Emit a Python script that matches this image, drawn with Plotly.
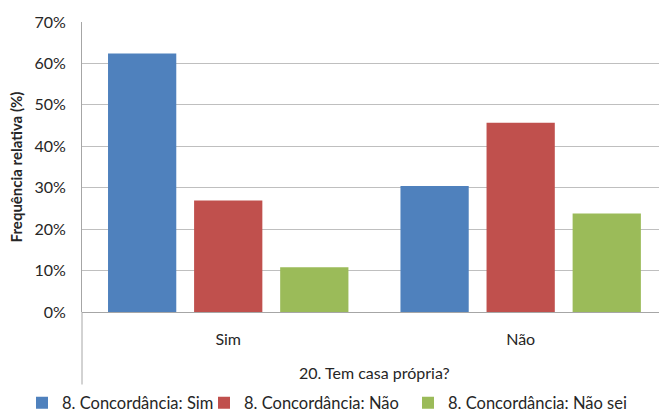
import plotly.graph_objects as go

categories = ["Sim", "Não"]
series_names = ["8. Concordância: Sim", "8. Concordância: Não", "8. Concordância: Não sei"]
vals_sim = [0.624, 0.304]
vals_nao = [0.269, 0.457]
vals_naosei = [0.108, 0.238]
colors = ["#4F81BD", "#C0504D", "#9BBB59"]
y_ticks = [0, 0.1, 0.2, 0.3, 0.4, 0.5, 0.6, 0.7]
y_ticktext = ["0%", "10%", "20%", "30%", "40%", "50%", "60%", "70%"]

FONT = "Lato"
TXT = "#262626"
W, H = 659, 410
legend_ids = ["legend", "legend2", "legend3"]
legend_left_px = [22, 204, 408]

fig = go.Figure()
for name, vals, c, lid in zip(series_names, [vals_sim, vals_nao, vals_naosei], colors, legend_ids):
    fig.add_trace(go.Bar(x=[0, 1], y=vals, name=name, legend=lid,
                         marker=dict(color=c, line=dict(width=0))))

legend_layouts = {}
for lid, px in zip(legend_ids, legend_left_px):
    legend_layouts[lid] = dict(orientation="h", xref="container", yref="container",
                               x=px / W, xanchor="left", y=7 / H, yanchor="middle",
                               font=dict(family=FONT, size=16.5, color=TXT), itemwidth=30,
                               bgcolor="rgba(0,0,0,0)")

fig.update_layout(
    width=W, height=H,
    margin=dict(l=82, r=0, t=22, b=98, pad=0, autoexpand=False),
    paper_bgcolor="white", plot_bgcolor="white",
    barmode="group", bargap=0.117, bargroupgap=0.207,
    font=dict(family=FONT, size=15, color=TXT),
    showlegend=True,
    xaxis=dict(range=[-0.5, 1.473], tickmode="array", tickvals=[0, 1], ticktext=categories,
               showgrid=False, zeroline=False, showline=False, ticks="", automargin=False,
               ticklabelstandoff=16, tickfont=dict(size=16, color=TXT), fixedrange=True),
    yaxis=dict(range=[0, 0.7], tickmode="array", tickvals=y_ticks, ticktext=y_ticktext,
               showgrid=True, gridcolor="#BFBFBF", gridwidth=1, zeroline=True,
               zerolinecolor="#A6A6A6", zerolinewidth=1, automargin=False,
               showline=True, linecolor="#A6A6A6", linewidth=1, fixedrange=True,
               ticks="", ticklabelstandoff=12, tickfont=dict(size=16, color=TXT),
               title=dict(text="<b>Frequência relativa (%)</b>", font=dict(size=15, color=TXT), standoff=8)),
    **legend_layouts,
)

# category-axis title (centered over full category range)
fig.add_annotation(x=0.5, xref="x", y=-0.2075, yref="paper", yanchor="middle",
                   text="20. Tem casa própria?", showarrow=False,
                   font=dict(family=FONT, size=16, color=TXT))
# extended axis line below the plot (Excel multi-level category border)
fig.add_shape(type="line", xref="paper", yref="paper", x0=0, x1=0, y0=0, y1=-0.25,
              line=dict(color="#A6A6A6", width=1))

fig.write_html("out.html", config={"displayModeBar": False},
               post_script="document.body.style.margin='0';")
